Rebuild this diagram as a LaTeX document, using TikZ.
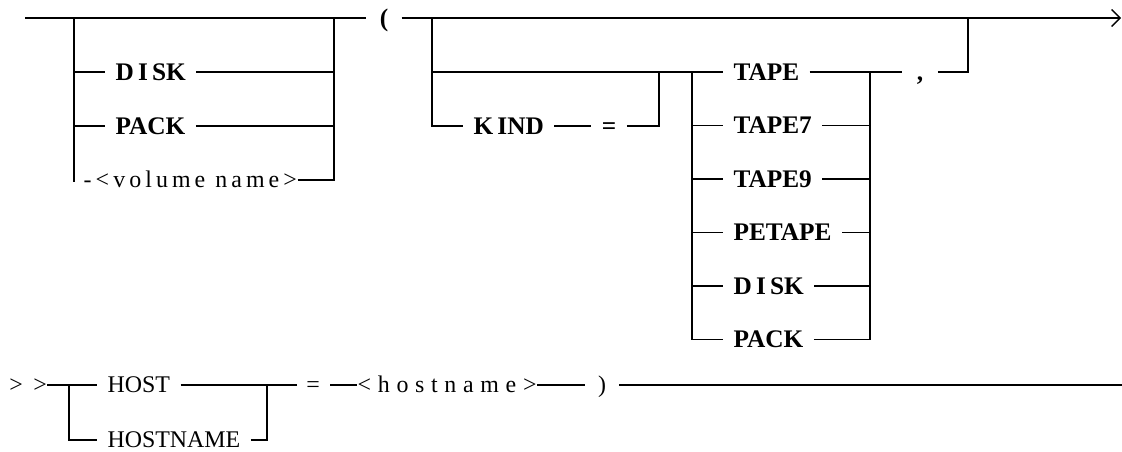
\documentclass[tikz,border=0pt]{standalone}
\usepackage{fontspec}
\setmainfont{Liberation Serif}
\newfontfamily\volfont[LetterSpace=17]{Liberation Serif}
\newfontfamily\hostfont[LetterSpace=28]{Liberation Serif}
\usetikzlibrary{arrows.meta}
\begin{document}
\begin{tikzpicture}[x=0.025cm,y=-0.025cm,line width=1pt,
  kw/.style={font=\fontsize{18}{18}\selectfont\bfseries,inner xsep=7pt,inner ysep=0pt,text height=11.9pt,text depth=0pt},
  kwb/.style={font=\fontsize{17}{17}\selectfont,inner xsep=7pt,inner ysep=0pt,text height=11.3pt,text depth=0pt},
  var/.style={font=\fontsize{17}{17}\selectfont,inner xsep=0pt,inner ysep=0pt,text height=11.3pt,text depth=0pt},
  par/.style={kw,inner xsep=9pt},
  endtip/.style={-{Straight Barb[length=6pt,width=12pt]}}
]
\useasboundingbox (0,0) rectangle (1122,452);
% ---------- top line ----------
\coordinate (s) at (25,18);
\node[par] (lp) at (384,18) {(};
\coordinate (e) at (1121,18);
\draw (s) -- (lp.west);
\draw[endtip] (lp.east) -- (e);
% ---------- group 1 ----------
\coordinate (j1) at (74,18);
\coordinate (j2) at (334,18);
\node[kw,anchor=west] (disk1) at (105,72) {D\,I\,SK};
\node[kw,anchor=west] (pack1) at (105,126) {PACK};
\node[var,anchor=west] (vol) at (83,180) {\volfont -<volume name>};
\coordinate (j1b) at (74,182);
\draw (j1) -- (j1b);
\draw (j1 |- disk1) -- (disk1.west);
\draw (j1 |- pack1) -- (pack1.west);
\draw (disk1.east) -- (j2 |- disk1);
\draw (pack1.east) -- (j2 |- pack1);
\draw (vol.east) -| (j2);
% ---------- group 2 ----------
\coordinate (k1) at (432,18);
\coordinate (k2) at (659,72);
\coordinate (t1) at (692,72);
\coordinate (t2) at (870,72);
\coordinate (c2) at (968,18);
\node[kw,anchor=west] (tape) at (723,72) {TAPE};
\node[kw,anchor=west] (tape7) at (723,125.5) {TAPE7};
\node[kw,anchor=west] (tape9) at (723,179) {TAPE9};
\node[kw,anchor=west] (petape) at (723,232.5) {PETAPE};
\node[kw,anchor=west] (disk2) at (723,286) {D\,I\,SK};
\node[kw,anchor=west] (pack2) at (723,339.5) {PACK};
\node[kw,anchor=west] (kind) at (463,126) {K\,IND};
\node[kw] (eq1) at (609,126) {=};
\node[kw,inner xsep=10pt] (comma) at (920,72) {,};
\draw (k1) |- (tape.west);
\draw (k1) |- (kind.west);
\draw (kind.east) -- (eq1.west);
\draw (eq1.east) -| (k2);
\draw (t1) |- (pack2.west);
\draw (t1 |- tape7) -- (tape7.west);
\draw (t1 |- tape9) -- (tape9.west);
\draw (t1 |- petape) -- (petape.west);
\draw (t1 |- disk2) -- (disk2.west);
\draw (pack2.east) -| (t2);
\draw (tape7.east) -- (t2 |- tape7);
\draw (tape9.east) -- (t2 |- tape9);
\draw (petape.east) -- (t2 |- petape);
\draw (disk2.east) -- (t2 |- disk2);
\draw (tape.east) -- (comma.west);
\draw (comma.east) -| (c2);
% ---------- bottom line ----------
\node[var] (gt1) at (16,385) {>};
\node[var] (gt2) at (40,385) {>};
\coordinate (h1) at (69,385);
\coordinate (h2) at (267,385);
\coordinate (h3) at (297,385);
\coordinate (fin) at (1122,385);
\node[kwb,anchor=west] (host) at (97,385) {HOST};
\node[kwb,anchor=west] (hostname) at (97,440) {HOSTNAME};
\node[kwb] (eq2) at (313,385) {=};
\node[var,anchor=west] (hostv) at (357,385) {\hostfont <hostname>};
\node[kwb,inner xsep=9pt] (rp) at (602,385) {)};
\draw (gt2.east) -- (host.west);
\draw (h1) |- (hostname.west);
\draw (host.east) -- (h3);
\draw (hostname.east) -| (h2);
\draw (h3) -- (eq2.west);
\draw (eq2.east) -- (hostv.west);
\draw (hostv.east) -- (rp.west);
\draw (rp.east) -- (fin);
\end{tikzpicture}
\end{document}
